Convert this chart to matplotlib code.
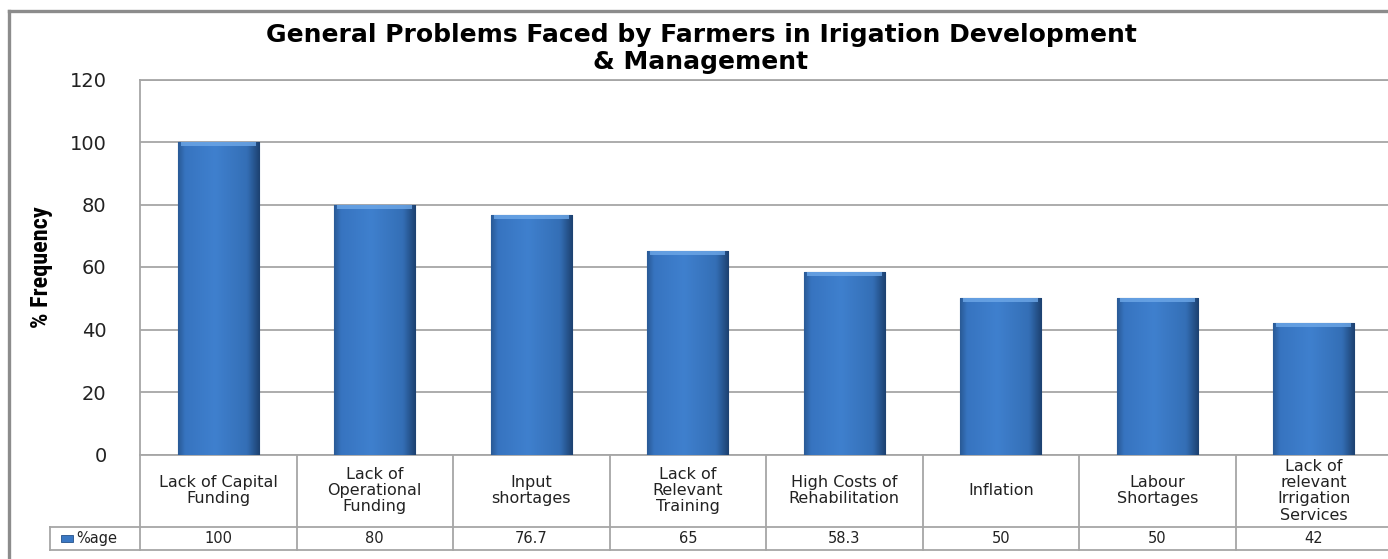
import numpy as np
import matplotlib
matplotlib.use("Agg")
import matplotlib.pyplot as plt
from matplotlib.colors import LinearSegmentedColormap
from matplotlib.lines import Line2D
from matplotlib.patches import Rectangle
import matplotlib.transforms as mtransforms
from matplotlib import font_manager

# data
categories = [
    "Lack of Capital\nFunding",
    "Lack of\nOperational\nFunding",
    "Input\nshortages",
    "Lack of\nRelevant\nTraining",
    "High Costs of\nRehabilitation",
    "Inflation",
    "Labour\nShortages",
    "Lack of\nrelevant\nIrrigation\nServices",
]
value_labels = ["100", "80", "76.7", "65", "58.3", "50", "50", "42"]
values = [100, 80, 76.7, 65, 58.3, 50, 50, 42]
yticks = [0, 20, 40, 60, 80, 100, 120]
series_name = "%age"
title = "General Problems Faced by Farmers in Irigation Development\n& Management"

W, H = 1388, 559
GRID = "#a6a6a6"
BORDER = "#8c8c8c"
TXT = "#222222"

# a condensed bold face for the y label if one is installed
names = {f.name for f in font_manager.fontManager.ttflist}
narrow = [n for n in ["Liberation Sans Narrow", "DejaVu Sans Condensed",
                      "Roboto Condensed", "Open Sans Condensed"] if n in names]
ylab_family = narrow[:1] + ["DejaVu Sans"]

fig = plt.figure(figsize=(W / 100, H / 100), dpi=100)
fig.patch.set_facecolor("white")

# plot area in pixels: left 140, top 79.5, bottom 454.5, slot width 156.5
left_px, top_px, bot_px, slot = 140, 79.5, 454.5, 156.5
ax = fig.add_axes([left_px / W, 1 - bot_px / H, 8 * slot / W, (bot_px - top_px) / H])

x = np.arange(len(values))
bars = ax.bar(x, values, width=0.52, color="#3a78c4", edgecolor="#24518a",
              linewidth=0.8, zorder=3)

# horizontal gradient inside each bar
cmap = LinearSegmentedColormap.from_list(
    "bar", [(0.0, "#2a5b98"), (0.08, "#3774c0"), (0.45, "#3f80ce"),
            (0.85, "#346fb6"), (1.0, "#1d4272")])
grad = np.linspace(0, 1, 64).reshape(1, -1)
for b in bars:
    x0, w, h = b.get_x(), b.get_width(), b.get_height()
    im = ax.imshow(grad, extent=[x0, x0 + w, 0, h], aspect="auto", cmap=cmap,
                   zorder=3.5, interpolation="bicubic")
    im.set_clip_path(b)
    # light bevel at the top
    ax.add_patch(Rectangle((x0 + 0.02, h - 1.3), w - 0.04, 1.3,
                           facecolor="#6ea8e8", edgecolor="none", alpha=0.8, zorder=4))

ax.set_xlim(-0.5, 7.5)
ax.set_ylim(0, 120)
ax.set_yticks(yticks)
ax.set_yticklabels([str(t) for t in yticks], fontsize=14, color=TXT)
ax.tick_params(axis="y", length=0, pad=24)
ax.set_xticks([])
ax.yaxis.grid(True, color=GRID, linewidth=1.3, zorder=0)
ax.set_axisbelow(True)
for s in ["left", "top", "bottom"]:
    ax.spines[s].set_color(GRID)
    ax.spines[s].set_linewidth(1.3)
ax.spines["right"].set_visible(False)

ax.set_ylabel("% Frequency", fontsize=17.5, fontweight="bold",
              family=ylab_family, fontstretch="condensed", color="black")
ax.yaxis.set_label_coords(-(left_px - 53) / (8 * slot), 0.5)

# data table under the plot (x in data units, y in axes fraction)
tr = mtransforms.blended_transform_factory(ax.transData, ax.transAxes)
ph = bot_px - top_px
def yf(py):
    return (bot_px - py) / ph

row_mid, row_bot = yf(527), yf(550)
lab_left = -0.5 - (left_px - 50) / slot
line_kw = dict(color=GRID, linewidth=1.3, transform=tr, clip_on=False)
ax.add_line(Line2D([lab_left, 7.5 + 0.05], [row_mid, row_mid], **line_kw))
ax.add_line(Line2D([lab_left, 7.5 + 0.05], [row_bot, row_bot], **line_kw))
ax.add_line(Line2D([lab_left, lab_left], [row_mid, row_bot], **line_kw))
for i in range(len(values) + 1):
    ax.add_line(Line2D([i - 0.5, i - 0.5], [0, row_bot], **line_kw))

for i, (cat, lab) in enumerate(zip(categories, value_labels)):
    ax.text(i, (0 + row_mid) / 2, cat, transform=tr, ha="center", va="center",
            fontsize=11.5, color=TXT, linespacing=1.1, clip_on=False)
    ax.text(i, (row_mid + row_bot) / 2, lab, transform=tr, ha="center",
            va="center", fontsize=10.5, color=TXT, clip_on=False)

# legend key cell
key_x = lab_left + 0.07
ax.add_patch(Rectangle((key_x, yf(542)), 0.075, yf(535) - yf(542), transform=tr,
                       facecolor="#3a78c4", edgecolor="#24518a", linewidth=0.6,
                       clip_on=False))
ax.text(key_x + 0.1, (row_mid + row_bot) / 2, series_name, transform=tr,
        ha="left", va="center", fontsize=10.5, color=TXT, clip_on=False)

# title
fig.text(701 / W, 1 - 48.5 / H, title, ha="center", va="center", fontsize=18,
         fontweight="bold", color="black", linespacing=1.15)

# outer chart frame (left and top edges visible)
frame_kw = dict(color=BORDER, linewidth=2.4, transform=fig.transFigure)
fig.add_artist(Line2D([9 / W, 9 / W], [0, 1 - 11 / H], **frame_kw))
fig.add_artist(Line2D([9 / W, 1], [1 - 11 / H, 1 - 11 / H], **frame_kw))

fig.savefig("out.png", dpi=100)
